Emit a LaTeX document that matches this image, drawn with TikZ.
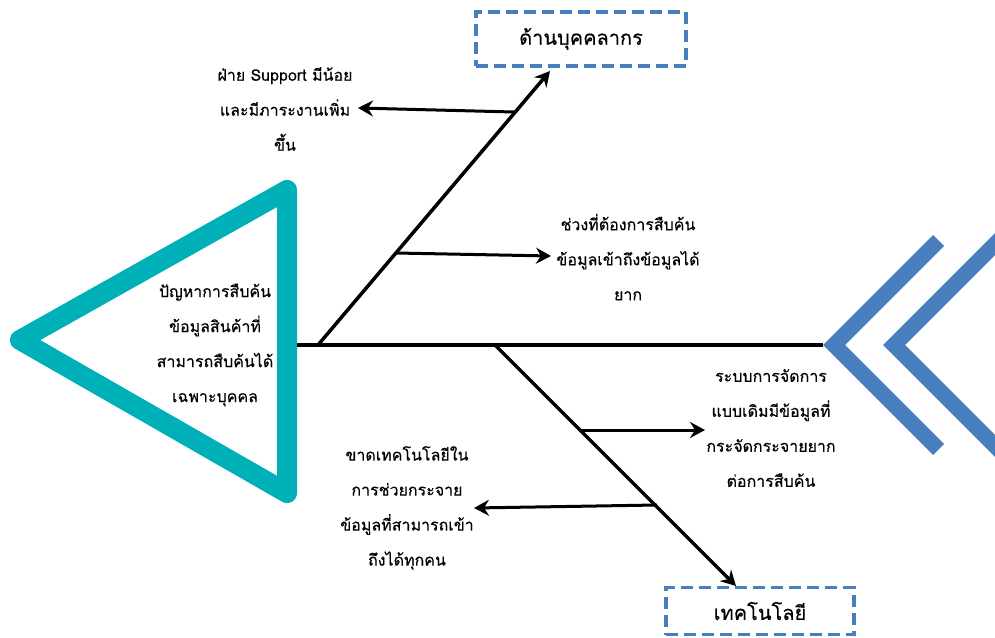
\documentclass[tikz,border=0pt]{standalone}
\usepackage{fontspec}
\newfontfamily\thaifont[Script=Thai,FakeBold=0.3]{Loma}
\usetikzlibrary{arrows.meta}
\definecolor{fishteal}{RGB}{0,176,185}
\definecolor{chevblue}{RGB}{72,125,190}
\definecolor{boxblue}{RGB}{72,125,190}
\tikzset{
  bone/.style={line width=3.5pt, black},
  subbone/.style={line width=3pt, black, -{Stealth[length=15pt,width=16pt,inset=5pt]}},
  lbl/.style={align=center, font=\thaifont\fontsize{16}{35}\selectfont, inner sep=0pt},
  catbox/.style={draw=boxblue, line width=3.3pt, dash pattern=on 12pt off 6pt, font=\thaifont\fontsize{20}{24}\selectfont, inner sep=0pt},
  chev/.style={fill=chevblue, draw=none}
}
\begin{document}
\begin{tikzpicture}[x=1pt,y=-1pt]
\useasboundingbox (0,0) rectangle (995,637);
\clip (0,0) rectangle (995,637);
% head triangle
\draw[fishteal, line width=20pt, line join=round] (287,190) -- (20,340) -- (287,493) -- cycle;
\node[lbl] (head) at (215,345) {ปัญหาการสืบค้น\\ข้อมูลสินค้าที่\\สามารถสืบค้นได้\\เฉพาะบุคคล};
% tail chevrons
\fill[chev] (823,345) -- (933,235) -- (944,246) -- (845,345) -- (944,444) -- (933,455) -- cycle;
\fill[chev] (883,345) -- (1003,225) -- (1014,236) -- (905,345) -- (1014,454) -- (1003,465) -- cycle;
% spine
\coordinate (sp0) at (297,345);
\coordinate (sp1) at (823,345);
\draw[bone] (sp0) -- (sp1);
% category boxes
\node[catbox, minimum width=210pt, minimum height=54pt] (people) at (581,39) {ด้านบุคคลากร};
\node[catbox, minimum width=188pt, minimum height=47pt] (tech) at (760,611) {เทคโนโลยี};
% bones
\coordinate (b1s) at (318,345);
\coordinate (b1e) at (550,71);
\coordinate (b2s) at (495,345);
\coordinate (b2e) at (736,586);
\draw[subbone, line width=3.5pt] (b1s) -- (b1e);
\draw[subbone, line width=3.5pt] (b2s) -- (b2e);
% sub-bones
\coordinate (u1) at (514,112);
\coordinate (u1e) at (358,108);
\coordinate (u2) at (396,253);
\coordinate (u2e) at (551,256);
\coordinate (l1) at (580,430);
\coordinate (l1e) at (705,430);
\coordinate (l2) at (657,505);
\coordinate (l2e) at (474,508);
\draw[subbone] (u1) -- (u1e);
\draw[subbone] (u2) -- (u2e);
\draw[subbone] (l1) -- (l1e);
\draw[subbone] (l2) -- (l2e);
% labels
\node[lbl] (t1) at (285,109) {ฝ่าย Support มีน้อย\\และมีภาระงานเพิ่ม\\ขึ้น};
\node[lbl] (t2) at (628,257) {ช่วงที่ต้องการสืบค้น\\ข้อมูลเข้าถึงข้อมูลได้\\ยาก};
\node[lbl] (t3) at (771,428) {ระบบการจัดการ\\แบบเดิมมีข้อมูลที่\\กระจัดกระจายยาก\\ต่อการสืบค้น};
\node[lbl] (t4) at (407,508) {ขาดเทคโนโลยีใน\\การช่วยกระจาย\\ข้อมูลที่สามารถเข้า\\ถึงได้ทุกคน};
\end{tikzpicture}
\end{document}
